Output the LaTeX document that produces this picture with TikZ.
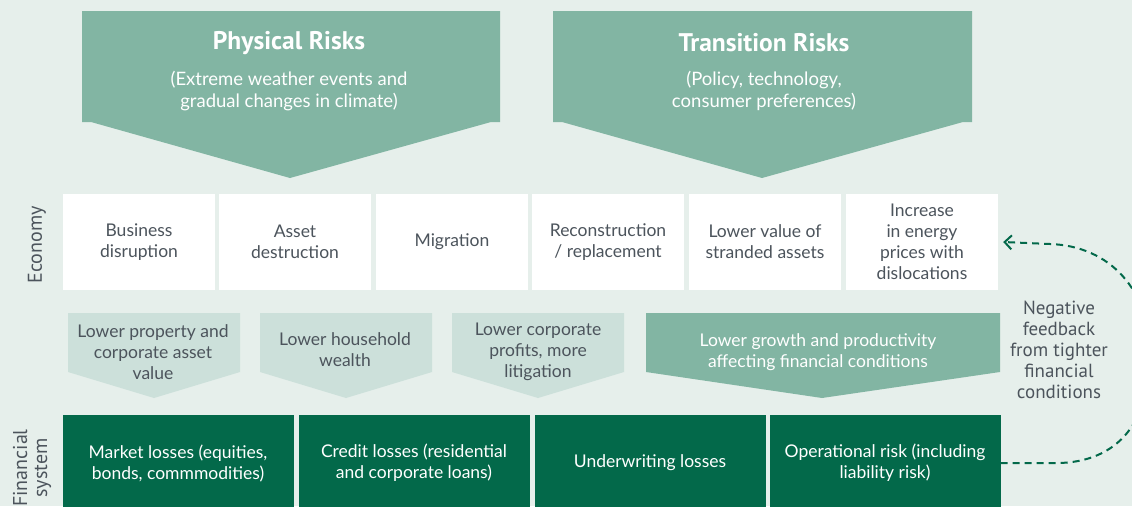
\documentclass[tikz,border=0pt]{standalone}
\usepackage{fontspec}
\setmainfont{Lato}
\newfontfamily\dinfont{PT Sans}
\usepackage{pgf,tikz}
\usetikzlibrary{arrows.meta}
\definecolor{bgmint}{rgb}{0.902,0.937,0.922}
\definecolor{hdrgreen}{rgb}{0.51,0.71,0.64}
\definecolor{lightmint}{rgb}{0.80,0.88,0.855}
\definecolor{darkgreen}{rgb}{0.012,0.412,0.29}
\definecolor{textgray}{rgb}{0.30,0.33,0.36}

\begin{document}
\begin{tikzpicture}[line cap=round,line join=round,>={Straight Barb[length=7pt,width=14pt]},x=1.0pt,y=-1.0pt,
  ecobox/.style={fill=white,minimum width=152,minimum height=96,inner sep=0pt,align=center,
    text=textgray,font=\fontsize{17.5}{21}\selectfont},
  finbox/.style={fill=darkgreen,minimum width=231,minimum height=96,inner sep=0pt,align=center,
    text=white,font=\fontsize{17.5}{21}\selectfont},
  midtext/.style={align=center,inner sep=0pt,text=textgray,font=\fontsize{17.5}{21}\selectfont},
  hdrtitle/.style={inner sep=0pt,text=white,font=\dinfont\bfseries\fontsize{25.5}{28}\selectfont},
  hdrsub/.style={align=center,inner sep=0pt,text=white,font=\fontsize{18.5}{22}\selectfont},
  sidelabel/.style={rotate=90,align=center,inner sep=0pt,text=textgray,font=\dinfont\fontsize{20}{20}\selectfont}]
\clip (0,0) rectangle (1132,506);
\fill[color=bgmint] (0,0) rectangle (1132,506);

% risk headers
\fill[color=hdrgreen] (82,11) -- (500,11) -- (500,122) -- (491,122) -- (290,178) -- (91,122) -- (82,122) -- cycle;
\fill[color=hdrgreen] (553,11) -- (972,11) -- (972,122) -- (963,122) -- (762,178) -- (562,122) -- (553,122) -- cycle;
\node (phystitle) at (289,43) [hdrtitle] {Physical Risks};
\node (physsub) at (289,91) [hdrsub] {(Extreme weather events and\\gradual changes in climate)};
\node (transtitle) at (764,43) [hdrtitle] {Transition Risks};
\node (transsub) at (764,91) [hdrsub] {(Policy, technology,\\consumer preferences)};

% economy row
\node (econlabel) at (37,245) [sidelabel] {Economy};
\node (business) at (139,242) [ecobox] {Business\\disruption};
\node (asset) at (295,242) [ecobox] {Asset\\destruction};
\node (migration) at (452,242) [ecobox] {Migration};
\node (reconstr) at (608,242) [ecobox] {Reconstruction\\/ replacement};
\node (stranded) at (765,242) [ecobox] {Lower value of\\stranded assets};
\node (energy) at (922,242) [ecobox] {Increase\\in energy\\prices with\\dislocations};

% transmission channels
\foreach \x in {68,260,452}
\fill[color=lightmint] (\x,313) -- (\x+172,313) -- (\x+172,372) -- (\x+86,398) -- (\x,372) -- cycle;
\fill[color=hdrgreen] (646,313) -- (1000,313) -- (1000,372) -- (822,398) -- (646,372) -- cycle;
\node (property) at (153,352) [midtext] {Lower property and\\corporate asset\\value};
\node (household) at (345,350) [midtext] {Lower household\\wealth};
\node (profits) at (538,352) [midtext] {Lower corporate\\profits, more\\litigation};
\node (growth) at (818,352) [midtext,text=white] {Lower growth and productivity\\affecting financial conditions};

% financial system row
\node (finlabel) at (32,468) [sidelabel] {Financial\\system};
\node (market) at (178,463) [finbox] {Market losses (equities,\\bonds, commmodities)};
\node (credit) at (414,463) [finbox] {Credit losses (residential\\and corporate loans)};
\node (underwr) at (650,463) [finbox] {Underwriting losses};
\node (operat) at (885,463) [finbox] {Operational risk (including\\liability risk)};

% feedback loop
\node (feedback) at (1059,350) [align=center,inner sep=0pt,text=textgray,font=\dinfont\fontsize{19}{21}\selectfont] {Negative\\feedback\\from tighter\\financial\\conditions};
\draw[->,color=darkgreen,line width=2pt,dash pattern=on 7pt off 5pt,line cap=butt] (operat.east) -- ++(50,0)
  .. controls (1115,465) and (1150,425) .. (1150,355)
  .. controls (1150,290) and (1110,246) .. (1050,244) -- ([xshift=5pt]energy.east);
\end{tikzpicture}
\end{document}
